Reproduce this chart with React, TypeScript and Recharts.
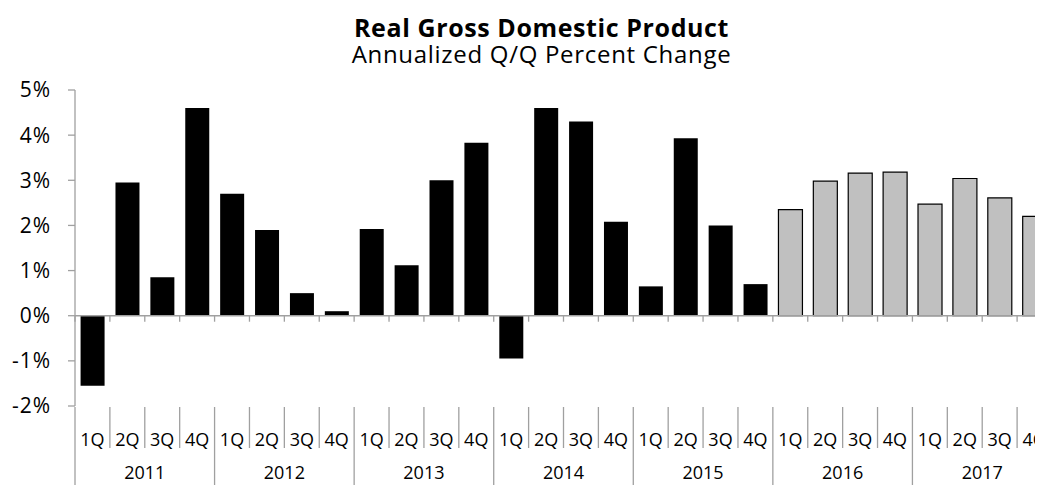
import React from 'react';
import { BarChart, Bar, XAxis, YAxis, Cell, ReferenceLine } from 'recharts';

const years = ['2011', '2012', '2013', '2014', '2015', '2016', '2017'];
const quarterNames = ['1Q', '2Q', '3Q', '4Q'];
const actualGrowth = [
  -1.55, 2.95, 0.85, 4.6,
  2.7, 1.9, 0.5, 0.1,
  1.92, 1.12, 3.0, 3.83,
  -0.95, 4.6, 4.3, 2.08,
  0.65, 3.93, 2.0, 0.7,
];
const forecastGrowth = [2.35, 2.98, 3.16, 3.18, 2.47, 3.04, 2.61, 2.2];
const yTicks = [-2, -1, 0, 1, 2, 3, 4, 5];

const data = years.flatMap((yr, yi) =>
  quarterNames.map((q, qi) => {
    const idx = yi * 4 + qi;
    const isForecast = idx >= actualGrowth.length;
    return {
      key: `${yr}-${q}`,
      year: yr,
      quarter: q,
      qi,
      value: isForecast ? forecastGrowth[idx - actualGrowth.length] : actualGrowth[idx],
      isForecast,
    };
  })
);

const FONT = '"Open Sans", sans-serif';
const AXIS_COLOR = '#a0a0a0';
const CHART_W = 1050;
const CHART_H = 477;
const MARGIN = { top: 82, right: 6, bottom: 0, left: 0 };
const Y_W = 67;
const N = data.length;
const BAND = (CHART_W - MARGIN.left - MARGIN.right - Y_W) / N;

const QuarterTick = (props: any) => {
  const { x, y, payload } = props;
  const row = data[payload.index] || data.find((d) => d.key === payload.value);
  if (!row) return null;
  const half = payload.offset || BAND / 2;
  const left = x - half;
  const isYearStart = row.qi === 0;
  return (
    <g>
      <line
        x1={left}
        x2={left}
        y1={y + 1}
        y2={isYearStart ? y + 79 : y + 42}
        stroke={AXIS_COLOR}
        strokeWidth={1.3}
      />
      <text x={x} y={y + 40} textAnchor="middle" fontFamily={FONT} fontSize={18} fill="#000">
        {row.quarter}
      </text>
      {row.qi === 1 && (
        <text x={x + half} y={y + 73} textAnchor="middle" fontFamily={FONT} fontSize={18} fill="#000">
          {row.year}
        </text>
      )}
    </g>
  );
};

const ZeroLine = (props: any) => {
  const { x1, x2, y1 } = props;
  if (x1 == null) return null;
  const step = (x2 - x1) / N;
  const ticks = [];
  for (let i = 0; i <= N; i++) {
    const tx = x1 + i * step;
    ticks.push(<line key={i} x1={tx} x2={tx} y1={y1} y2={y1 + 6} stroke={AXIS_COLOR} strokeWidth={1.3} />);
  }
  return (
    <g>
      <line x1={x1} x2={x2} y1={y1} y2={y1} stroke={AXIS_COLOR} strokeWidth={1.5} />
      {ticks}
    </g>
  );
};

export default function App() {
  return (
    <div style={{ position: 'relative', width: 1035, height: CHART_H, overflow: 'hidden', background: '#fff' }}>
      <div
        style={{
          position: 'absolute',
          left: 0,
          top: 0,
          width: 1067,
          textAlign: 'center',
          fontFamily: FONT,
          color: '#000',
          zIndex: 2,
        }}
      >
        <div
          style={{
            position: 'absolute',
            left: 0,
            width: 1067,
            top: 7,
            fontSize: 25,
            fontWeight: 700,
            lineHeight: '25px',
            letterSpacing: 0.6,
            whiteSpace: 'nowrap',
          }}
        >
          Real Gross Domestic Product
        </div>
        <div
          style={{
            position: 'absolute',
            left: 0,
            width: 1067,
            top: 33,
            fontSize: 24,
            lineHeight: '25px',
            letterSpacing: 0.7,
            whiteSpace: 'nowrap',
          }}
        >
          Annualized Q/Q Percent Change
        </div>
      </div>
      <BarChart width={CHART_W} height={CHART_H} data={data} margin={MARGIN} barCategoryGap="16%">
        <YAxis
          width={Y_W}
          domain={[-2, 5]}
          ticks={yTicks}
          interval={0}
          tickFormatter={(v: number) => `${v}%`}
          tick={{ fontFamily: FONT, fontSize: 21, fill: '#000', letterSpacing: 1 }}
          tickSize={7}
          tickMargin={17}
          stroke={AXIS_COLOR}
          strokeWidth={1.3}
          allowDataOverflow
        />
        <XAxis
          dataKey="key"
          height={79}
          interval={0}
          axisLine={false}
          tickLine={false}
          tickSize={0}
          tickMargin={0}
          tick={<QuarterTick />}
        />
        <Bar dataKey="value" isAnimationActive={false}>
          {data.map((d) => (
            <Cell
              key={d.key}
              fill={d.isForecast ? '#c0c0c0' : '#000'}
              stroke={d.isForecast ? '#000' : 'none'}
              strokeWidth={d.isForecast ? 1.2 : 0}
            />
          ))}
        </Bar>
        <ReferenceLine y={0} shape={<ZeroLine />} />
      </BarChart>
    </div>
  );
}
